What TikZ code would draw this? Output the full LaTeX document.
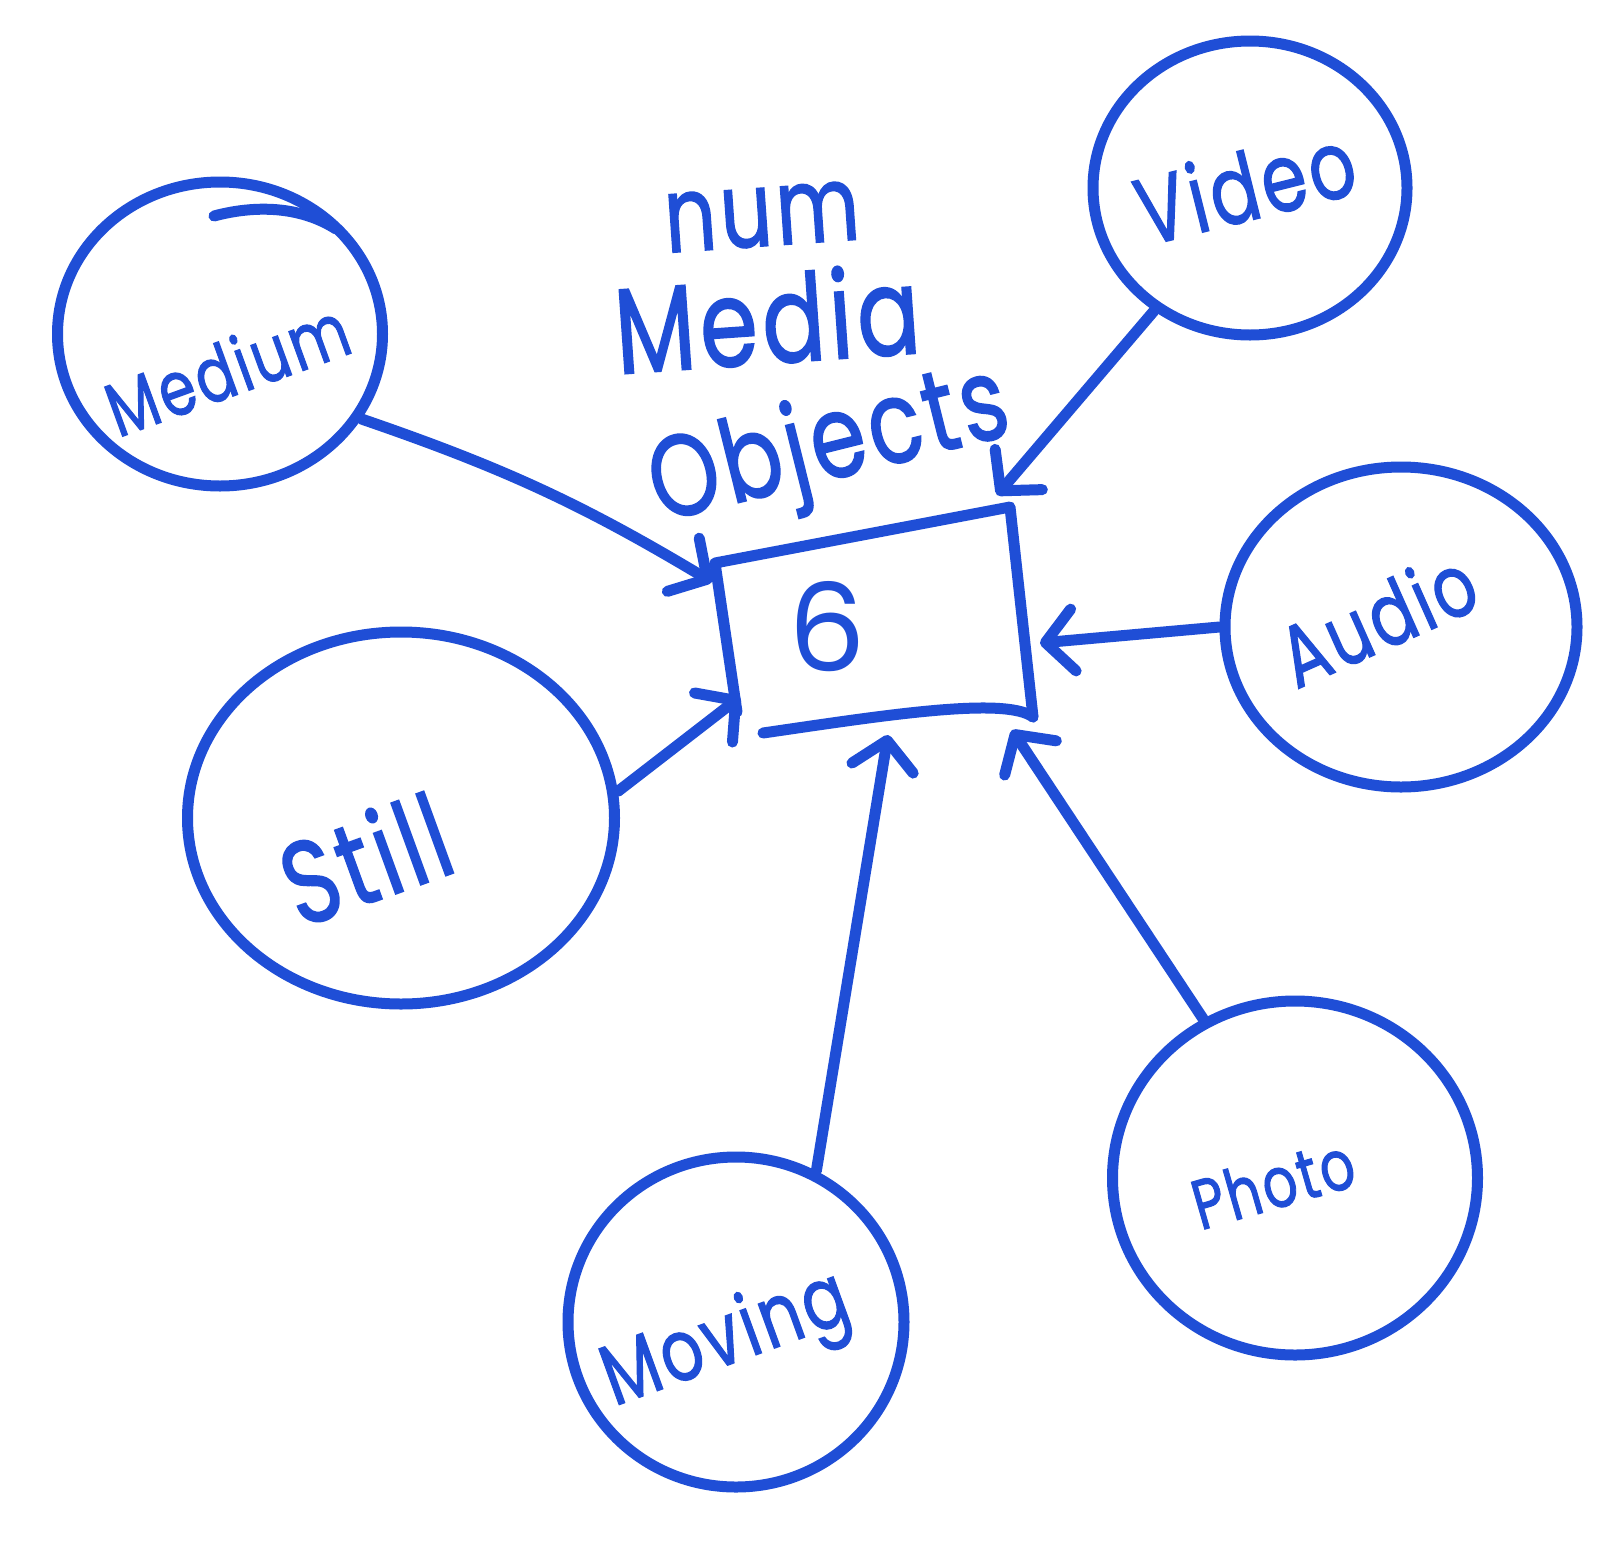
\documentclass[tikz,border=0pt]{standalone}
\usepackage{fontspec}
\setmainfont{Poppins}[BoldFont=Poppins, BoldFeatures={FakeBold=1.6, LetterSpace=5}]
\usepackage{graphicx}
\usetikzlibrary{arrows.meta,shapes.geometric}
\definecolor{penblue}{RGB}{31,78,214}
% text set to a given width, stretched a little upward like handwriting
\newcommand{\handw}[2]{\resizebox{#1}{!}{\scalebox{1}[1.3]{\bfseries #2}}}

\begin{document}
\begin{tikzpicture}[x=1pt,y=-1pt,
  pen/.style={draw=penblue, line width=11pt, line cap=round, line join=round},
  bubble/.style={pen, ellipse, inner sep=0pt},
  link/.style={pen, -{Straight Barb[length=28pt,width=62pt,round]}},
  word/.style={text=penblue, inner sep=0pt},
]
\useasboundingbox[fill=white] (0,0) rectangle (1624,1542);

% bubbles
\node[bubble, minimum width=325pt, minimum height=304pt] (medium) at (220,334) {};
\node[bubble, minimum width=314pt, minimum height=294pt] (video)  at (1250,188) {};
\node[bubble, minimum width=352pt, minimum height=320pt] (audio)  at (1401,627) {};
\node[bubble, minimum width=427pt, minimum height=372pt] (still)  at (401,818) {};
\node[bubble, minimum width=336pt, minimum height=330pt] (moving) at (736,1322) {};
\node[bubble, minimum width=365pt, minimum height=354pt] (photo)  at (1295,1178) {};

% overlapping pen stroke at the top of the Medium bubble
\draw[pen] (214,216) .. controls (255,205) and (300,206) .. (336,229);

% bubble labels
\node[word, rotate=20] (tmed)   at (227,368)  {\handw{252pt}{Medium}};
\node[word, rotate=14] (tvid)   at (1245,185) {\handw{222pt}{Video}};
\node[word, rotate=24] (taud)   at (1377,618) {\handw{205pt}{Audio}};
\node[word, rotate=20] (tstill) at (365,858)  {\handw{170pt}{Still}};
\node[word, rotate=20] (tmov)   at (727,1343) {\handw{255pt}{Moving}};
\node[word, rotate=16] (tpho)   at (1273,1183){\handw{165pt}{Photo}};

% title above the count box
\node[word, rotate=4]  (tnum)   at (762,217) {\handw{195pt}{num}};
\node[word, rotate=4]  (tmedia) at (767,318) {\handw{305pt}{Media}};
\node[word, rotate=14] (tobj)   at (830,450) {\handw{365pt}{Objects}};

% count box
\coordinate (bTL) at (715,563);
\coordinate (bTR) at (1010,507);
\coordinate (bBR) at (1033,717);
\coordinate (bBL) at (737,712);
\coordinate (bB0) at (763,733);
\draw[pen] (bBL) -- (bTL) -- (bTR) -- (bBR);
\draw[pen] (bB0) .. controls (880,716) and (1005,696) .. (bBR);
\node[word] (count) at (827,627) {\resizebox{!}{90pt}{6}};

% arrow tips on the box
\coordinate (hMed)   at (712,582);
\coordinate (hStill) at (740,697);
\coordinate (hMov)   at (888,735);
\coordinate (hPho)   at (1012,730);
\coordinate (hAud)   at (1040,643);
\coordinate (hVid)   at (997,495);

% connectors
\draw[link] (medium.-31) to[bend left=6] (hMed);
\draw[link] (video.232) -- (hVid);
\draw[link] (audio.180) -- (hAud);
\draw[link] (still.7) -- (hStill);
\draw[link] (moving.62) -- (hMov);
\draw[link] (photo.120) -- (hPho);
\end{tikzpicture}
\end{document}
